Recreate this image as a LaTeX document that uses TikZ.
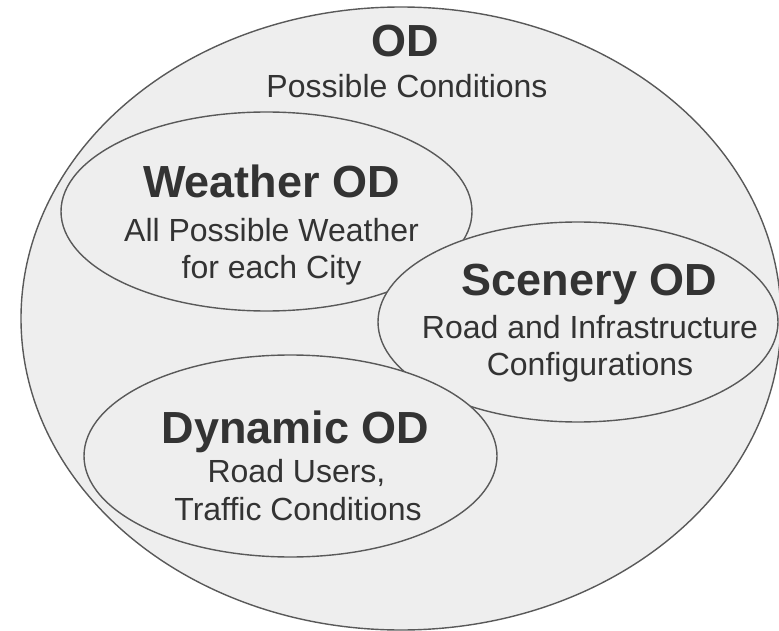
\documentclass[tikz,border=0pt]{standalone}
\usepackage{fontspec}
\setmainfont{Liberation Sans}
\usetikzlibrary{shapes.geometric}

\definecolor{odfill}{HTML}{EEEEEE}
\definecolor{odline}{HTML}{595959}
\definecolor{odtext}{HTML}{333333}

\tikzset{
  odzone/.style={ellipse, draw=odline, fill=odfill, line width=1.4pt,
                 inner sep=0pt, outer sep=0pt},
  odhead/.style={anchor=base, inner sep=0pt, text=odtext,
                 font=\fontsize{45}{54}\selectfont\bfseries},
  odbody/.style={anchor=base, inner sep=0pt, text=odtext,
                 font=\fontsize{32}{38}\selectfont},
}

\begin{document}
\begin{tikzpicture}[x=1pt, y=-1pt]
  \useasboundingbox (0,0) rectangle (779,631);

  % overall operational domain
  \node[odzone, minimum width=760pt, minimum height=623pt] (od) at (401,318.5) {};
  \node[odhead] (odtitle) at (405,57) {OD};
  \node[odbody] (oddesc)  at (407,98) {Possible Conditions};

  % weather
  \node[odzone, minimum width=411pt, minimum height=199pt] (weather) at (266.5,211.5) {};
  \node[odhead] (wtitle) at (271.5,198) {Weather OD};
  \node[odbody] (wdesc1) at (271.5,241) {All Possible Weather};
  \node[odbody] (wdesc2) at (271.5,278) {for each City};

  % scenery
  \node[odzone, minimum width=400pt, minimum height=200pt] (scenery) at (578,322) {};
  \node[odhead] (stitle) at (589.5,295) {Scenery OD};
  \node[odbody] (sdesc1) at (590,338) {Road and Infrastructure};
  \node[odbody] (sdesc2) at (590,375) {Configurations};

  % dynamic elements
  \node[odzone, minimum width=413pt, minimum height=202pt] (dynamic) at (290.5,456) {};
  \node[odhead] (dtitle) at (295.5,443) {Dynamic OD};
  \node[odbody] (ddesc1) at (296.5,482) {Road Users,};
  \node[odbody] (ddesc2) at (298,520) {Traffic Conditions};
\end{tikzpicture}
\end{document}
